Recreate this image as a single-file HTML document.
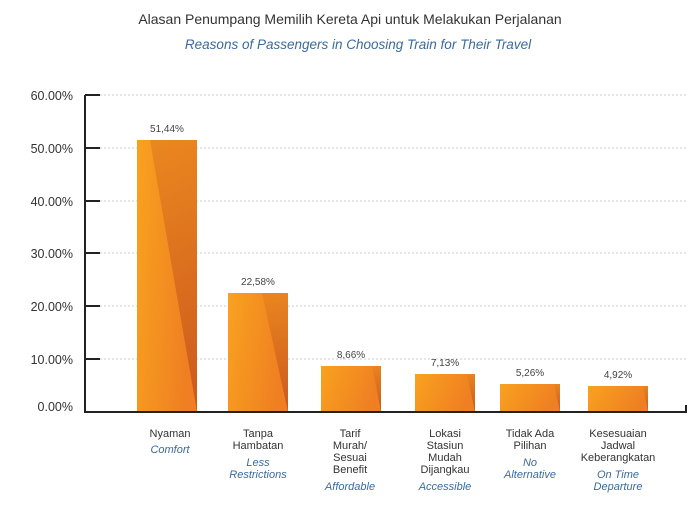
<!DOCTYPE html>
<html><head><meta charset="utf-8"><style>
body{margin:0;background:#fff;}
svg text{font-family:"Liberation Sans",sans-serif;}
</style></head><body>
<svg width="700" height="510" xmlns="http://www.w3.org/2000/svg">
<defs>
<linearGradient id="g" x1="0" y1="0" x2="1" y2="0.3"><stop offset="0" stop-color="#f9a21f"/><stop offset="1" stop-color="#ef7f22"/></linearGradient>
<linearGradient id="d" x1="0" y1="0" x2="0" y2="1"><stop offset="0" stop-color="#e8841f"/><stop offset="1" stop-color="#c5521c"/></linearGradient>
</defs>
<text x="350" y="24" text-anchor="middle" font-size="14" fill="#333">Alasan Penumpang Memilih Kereta Api untuk Melakukan Perjalanan</text>
<text x="358" y="49" text-anchor="middle" font-size="13.5" font-style="italic" fill="#3b6a9e">Reasons of Passengers in Choosing Train for Their Travel</text>
<g stroke="#ccc" stroke-dasharray="2,2" stroke-width="1">
<line x1="100" y1="95" x2="686" y2="95"/><line x1="100" y1="148" x2="686" y2="148"/><line x1="100" y1="201" x2="686" y2="201"/><line x1="100" y1="253" x2="686" y2="253"/><line x1="100" y1="306" x2="686" y2="306"/><line x1="100" y1="359" x2="686" y2="359"/>
</g>
<g font-size="12.5" fill="#333" text-anchor="end">
<text x="73" y="100">60.00%</text><text x="73" y="153">50.00%</text><text x="73" y="206">40.00%</text><text x="73" y="258">30.00%</text><text x="73" y="311">20.00%</text><text x="73" y="364">10.00%</text><text x="73" y="411">0.00%</text>
</g>
<g id="bars">
<rect x="137" y="140" width="60" height="272" fill="url(#g)"/><polygon points="150,140 197,140 197,412" fill="url(#d)" opacity="0.85"/>
<rect x="228" y="293" width="60" height="119" fill="url(#g)"/><polygon points="262,293 288,293 288,412" fill="url(#d)" opacity="0.85"/>
<rect x="321" y="366" width="60" height="46" fill="url(#g)"/><polygon points="372,366 381,366 381,412" fill="url(#d)" opacity="0.85"/>
<rect x="415" y="374" width="60" height="38" fill="url(#g)"/><polygon points="467,374 475,374 475,412" fill="url(#d)" opacity="0.85"/>
<rect x="500" y="384" width="60" height="28" fill="url(#g)"/><polygon points="554,384 560,384 560,412" fill="url(#d)" opacity="0.85"/>
<rect x="588" y="386" width="60" height="26" fill="url(#g)"/><polygon points="643,386 648,386 648,412" fill="url(#d)" opacity="0.85"/>
</g>
<g font-size="10" fill="#444" text-anchor="middle">
<text x="167" y="132">51,44%</text><text x="258" y="285">22,58%</text><text x="351" y="358">8,66%</text><text x="445" y="366">7,13%</text><text x="530" y="376">5,26%</text><text x="618" y="378">4,92%</text>
</g>
<g stroke="#222" stroke-width="2" fill="none">
<polyline points="85,95 85,412 686,412 686,405"/>
<line x1="85" y1="95" x2="100" y2="95"/><line x1="85" y1="148" x2="100" y2="148"/><line x1="85" y1="201" x2="100" y2="201"/><line x1="85" y1="253" x2="100" y2="253"/><line x1="85" y1="306" x2="100" y2="306"/><line x1="85" y1="359" x2="100" y2="359"/>
</g>
<g font-size="11" fill="#333" text-anchor="middle">
<text x="170" y="437">Nyaman</text>
<text x="258" y="437">Tanpa</text><text x="258" y="449">Hambatan</text>
<text x="350" y="437">Tarif</text><text x="350" y="449">Murah/</text><text x="350" y="461">Sesuai</text><text x="350" y="473">Benefit</text>
<text x="445" y="437">Lokasi</text><text x="445" y="449">Stasiun</text><text x="445" y="461">Mudah</text><text x="445" y="473">Dijangkau</text>
<text x="530" y="437">Tidak Ada</text><text x="530" y="449">Pilihan</text>
<text x="618" y="437">Kesesuaian</text><text x="618" y="449">Jadwal</text><text x="618" y="461">Keberangkatan</text>
</g>
<g font-size="11" fill="#3b6a9e" text-anchor="middle" font-style="italic">
<text x="170" y="453">Comfort</text>
<text x="258" y="466">Less</text><text x="258" y="478">Restrictions</text>
<text x="350" y="490">Affordable</text>
<text x="445" y="490">Accessible</text>
<text x="530" y="466">No</text><text x="530" y="478">Alternative</text>
<text x="618" y="478">On Time</text><text x="618" y="490">Departure</text>
</g>
</svg>
</body></html>
